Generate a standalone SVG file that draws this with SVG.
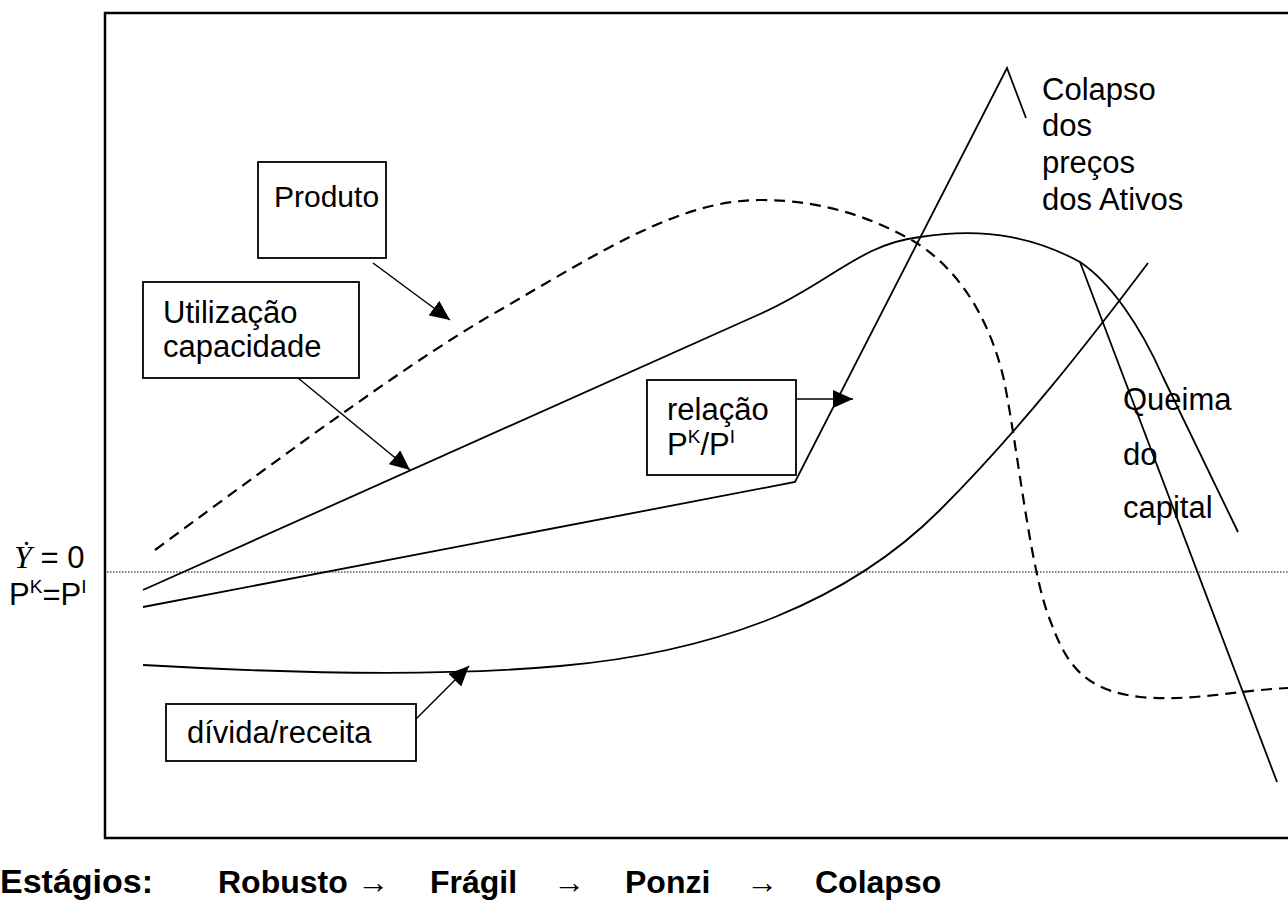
<svg xmlns="http://www.w3.org/2000/svg" width="1288" height="903" viewBox="0 0 1288 903">
<style>
.frame{fill:none;stroke:#000;stroke-width:2.5}
.curve{fill:none;stroke:#000;stroke-width:1.8}
.dash{fill:none;stroke:#000;stroke-width:2.2;stroke-dasharray:11 7}
.dot{fill:none;stroke:#000;stroke-width:1;stroke-dasharray:1.5 1.5}
.box{fill:#fff;stroke:#000;stroke-width:1.8}
.ptr{fill:none;stroke:#000;stroke-width:1.5;marker-end:url(#ah)}
.lbl{font-family:"Liberation Sans",Arial,sans-serif;font-size:31px;fill:#000}
.stage{font-family:"Liberation Sans",Arial,sans-serif;font-size:32px;font-weight:bold;fill:#000}
</style>
<defs>
<marker id="ah" viewBox="0 0 20 18" refX="20" refY="9" markerWidth="20" markerHeight="18" orient="auto" markerUnits="userSpaceOnUse">
<path d="M0,0 L20,9 L0,18 z" fill="#000"/>
</marker>
</defs>
<rect width="1288" height="903" fill="#fff"/>
<path class="frame" d="M1295,13 L105,13 L105,838 L1295,838"/>
<line class="dot" x1="107" y1="572" x2="1288" y2="572"/>
<g id="curves">
<path id="produto-curve" class="dash" d="M155,550 C300,443 420,355 500,310 C600,252 680,200 760,200 C830,200 880,222 915,242 C960,270 990,320 1004,380 C1018,450 1030,570 1050,620 C1065,660 1080,690 1140,697 C1190,702 1240,690 1288,688"/>
<path id="utilizacao-curve" class="curve" d="M143,590 L760,314 C830,283 860,244 920,237 C990,226 1040,240 1080,262 C1110,282 1140,325 1163,377 L1238,532"/>
<path id="relacao-curve" class="curve" d="M143,607 L795,482 L1007,68 L1026,118"/>
<path id="divida-curve" class="curve" d="M143,665 C300,674 450,676 560,666 C720,652 850,600 940,510 C1020,430 1090,340 1148,263"/>
<path id="queima-line" class="curve" d="M1080,262 L1277,782"/>
</g>
<g id="connectors">
<line class="ptr" x1="373" y1="263" x2="450" y2="320"/>
<line class="ptr" x1="298" y1="378" x2="410" y2="470"/>
<line class="ptr" x1="796" y1="399" x2="853" y2="399"/>
<line class="ptr" x1="412" y1="723" x2="469" y2="666"/>
</g>
<g id="produto">
<rect class="box" x="258" y="162" width="128" height="96"/>
<text class="lbl" x="274" y="207" style="font-size:30px">Produto</text>
</g>
<g id="utilizacao">
<rect class="box" x="143" y="282" width="216" height="96"/>
<text class="lbl" x="163" y="323">Utilização</text>
<text class="lbl" x="163" y="357">capacidade</text>
</g>
<g id="relacao">
<rect class="box" x="647" y="380" width="149" height="95"/>
<text class="lbl" x="667" y="420">relação</text>
<text class="lbl" x="667" y="455">P<tspan font-size="19" dy="-12">K</tspan><tspan dy="12">/P</tspan><tspan font-size="19" dy="-12">I</tspan></text>
</g>
<g id="divida">
<rect class="box" x="166" y="704" width="250" height="57"/>
<text class="lbl" x="187" y="743">dívida/receita</text>
</g>
<g id="colapso-label">
<text class="lbl" x="1042" y="100">Colapso</text>
<text class="lbl" x="1042" y="136">dos</text>
<text class="lbl" x="1042" y="173">preços</text>
<text class="lbl" x="1042" y="210">dos Ativos</text>
</g>
<g id="queima-label">
<text class="lbl" x="1123" y="410">Queima</text>
<text class="lbl" x="1123" y="465">do</text>
<text class="lbl" x="1123" y="518">capital</text>
</g>
<g id="axis-label">
<text class="lbl" x="14" y="568"><tspan font-family="Liberation Serif" font-style="italic" font-size="32">Ẏ</tspan> = 0</text>
<text class="lbl" x="9" y="605">P<tspan font-size="19" dy="-12">K</tspan><tspan dy="12">=P</tspan><tspan font-size="19" dy="-12">I</tspan></text>
</g>
<g id="stages">
<text class="stage" x="0" y="893" style="font-size:34px">Estágios:</text>
<text class="stage" x="218" y="893">Robusto</text>
<text class="stage" x="357" y="893">→</text>
<text class="stage" x="430" y="893">Frágil</text>
<text class="stage" x="553" y="893">→</text>
<text class="stage" x="625" y="893">Ponzi</text>
<text class="stage" x="746" y="893">→</text>
<text class="stage" x="815" y="893">Colapso</text>
</g>
</svg>
